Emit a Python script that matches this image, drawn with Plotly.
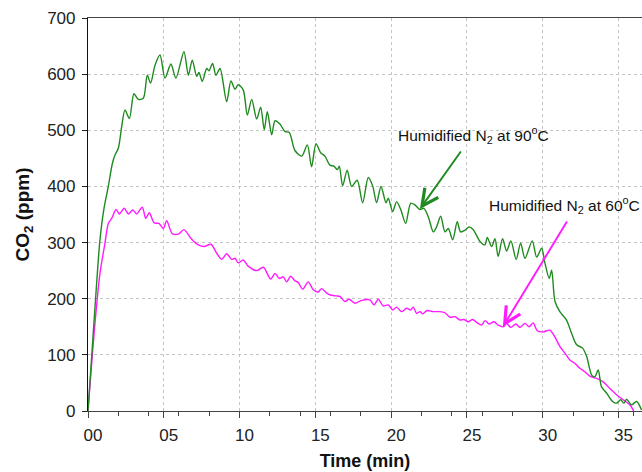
import plotly.graph_objects as go

# CO2 release (ppm) vs time (min) under humidified N2
t_90 = [0, 0.25, 0.5, 0.79, 1.05, 1.34, 1.6, 1.78, 2.0, 2.22, 2.44, 2.73, 3.03, 3.32, 3.65,
        3.91, 4.13, 4.42, 4.75, 5.08, 5.47, 5.80, 6.33, 6.62, 6.88, 7.17, 7.32, 7.54, 7.83,
        7.98, 8.22, 8.44, 8.71, 9.15, 9.43, 9.70, 9.91, 10.24, 10.51, 10.80, 11.13, 11.39,
        11.63, 11.83, 12.12, 12.34, 12.66, 12.99, 13.28, 13.65, 14.1, 14.47, 14.75, 15.04,
        15.35, 15.63, 15.96, 16.23, 16.45, 16.58, 16.80, 17.10, 17.39, 17.76, 18.12, 18.49,
        18.78, 19.04, 19.33, 19.66, 19.81, 20.1, 20.36, 20.63, 20.96, 21.29, 21.57, 21.9,
        22.16, 22.45, 22.78, 23.0, 23.27, 23.55, 23.77, 24.06, 24.36, 24.58, 24.87, 25.15,
        25.42, 25.86, 26.19, 26.34, 26.63, 26.85, 27.06, 27.35, 27.62, 27.9, 28.25, 28.54,
        28.83, 29.31, 29.6, 29.93, 30.15, 30.43, 30.59, 30.81, 31.13, 31.57, 31.91, 32.24,
        32.63, 32.9, 33.23, 33.44, 33.66, 33.88, 34.21, 34.61, 34.87, 35.14, 35.36, 35.53,
        35.86, 36.19, 36.52]
co2_90 = [0, 100, 200, 305, 360, 400, 440, 456, 468, 506, 536, 521, 565, 555, 557,
          598, 584, 616, 634, 593, 618, 593, 640, 598, 625, 596, 603, 587, 610,
          606, 619, 598, 610, 551, 588, 573, 581, 572, 527, 555, 520, 541,
          501, 533, 492, 517, 511, 498, 496, 464, 454, 474, 435, 476,
          460, 454, 438, 436, 430, 436, 401, 429, 400, 411, 371, 416,
          401, 371, 400, 371, 379, 355, 373, 359, 334, 370, 367, 359,
          361, 346, 319, 328, 347, 319, 325, 305, 337, 319, 322, 328,
          323, 302, 296, 309, 293, 307, 275, 307, 285, 303, 270, 299,
          272, 303, 274, 290, 263, 236, 251, 195, 177, 162, 138, 118,
          112, 97, 64, 61, 73, 43, 32, 17, 14, 20, 14, 21,
          11, 17, 2]

t_60 = [0, 0.46, 0.79, 1.12, 1.34, 1.56, 1.85, 2.07, 2.39, 2.66, 2.95, 3.21, 3.58, 3.81,
        4.04, 4.37, 4.68, 4.97, 5.19, 5.56, 5.96, 6.33, 6.84, 7.28, 7.67, 8.11, 8.49, 8.82,
        9.15, 9.48, 9.70, 9.91, 10.24, 10.57, 11.13, 11.57, 12.05, 12.34, 12.62, 12.88,
        13.11, 13.37, 13.65, 13.87, 14.16, 14.53, 14.86, 15.19, 15.41, 15.75, 15.96, 16.36,
        16.62, 16.95, 17.24, 17.61, 18.05, 18.6, 18.87, 19.15, 19.48, 19.81, 20.1, 20.36,
        20.69, 21.02, 21.29, 21.46, 21.68, 21.9, 22.08, 22.38, 22.78, 23.22, 23.55, 23.88,
        24.21, 24.54, 24.8, 25.09, 25.38, 25.68, 25.97, 26.19, 26.47, 26.78, 27.06, 27.4,
        27.62, 27.88, 28.23, 28.5, 28.83, 29.1, 29.37, 29.64, 30.03, 30.47, 30.8, 31.13,
        31.46, 31.79, 32.12, 32.45, 32.78, 33.11, 33.55, 33.99, 34.43, 34.87, 35.31, 35.75,
        36.0]
co2_60 = [0, 156, 245, 299, 334, 343, 359, 351, 361, 351, 358, 351, 363, 343,
          353, 335, 334, 325, 339, 316, 315, 323, 306, 296, 293, 297, 281, 270,
          280, 270, 272, 264, 269, 258, 250, 256, 235, 245, 236, 239,
          230, 240, 232, 229, 217, 230, 216, 212, 218, 210, 207, 205,
          204, 195, 199, 192, 197, 198, 189, 199, 187, 189, 180, 185,
          177, 183, 180, 185, 174, 177, 173, 179, 177, 177, 175, 167,
          168, 162, 163, 159, 163, 157, 153, 161, 155, 159, 153, 150,
          156, 149, 155, 149, 156, 150, 157, 143, 141, 144, 132, 115,
          103, 91, 85, 76, 70, 62, 58, 52, 40, 29, 20, 11,
          0]

x_ticks = [0, 5, 10, 15, 20, 25, 30, 35]
x_tick_text = ["00", "05", "10", "15", "20", "25", "30", "35"]
y_ticks = [0, 100, 200, 300, 400, 500, 600, 700]

label_90 = "Humidified N<sub>2</sub> at 90<sup>o</sup>C"
label_60 = "Humidified N<sub>2</sub> at 60<sup>o</sup>C"

GREEN = "#1f8a1f"
MAGENTA = "#ff1aff"
FONT = "Arial, Liberation Sans, sans-serif"

fig = go.Figure()
fig.add_trace(go.Scatter(x=t_60, y=co2_60, mode="lines",
                         line=dict(color=MAGENTA, width=1.4, shape="spline", smoothing=0.8),
                         showlegend=False))
fig.add_trace(go.Scatter(x=t_90, y=co2_90, mode="lines",
                         line=dict(color=GREEN, width=1.4, shape="spline", smoothing=0.8),
                         showlegend=False))

# arrows pointing at each curve
fig.add_annotation(x=21.9, y=360, ax=24.67, ay=465, xref="x", yref="y",
                   axref="x", ayref="y", text="", showarrow=True,
                   arrowhead=5, arrowsize=1.7, arrowwidth=1.9, arrowcolor=GREEN)
fig.add_annotation(x=27.37, y=150, ax=31.66, ay=340, xref="x", yref="y",
                   axref="x", ayref="y", text="", showarrow=True,
                   arrowhead=5, arrowsize=1.7, arrowwidth=1.9, arrowcolor=MAGENTA)

# curve labels
fig.add_annotation(x=20.3, y=491, xref="x", yref="y", text=label_90, showarrow=False,
                   xanchor="left", yanchor="middle",
                   font=dict(family=FONT, size=15.5, color="#111111"))
fig.add_annotation(x=26.35, y=367, xref="x", yref="y", text=label_60, showarrow=False,
                   xanchor="left", yanchor="middle",
                   font=dict(family=FONT, size=15.5, color="#111111"))

fig.update_xaxes(range=[0, 36.55], tickmode="array", tickvals=x_ticks, ticktext=x_tick_text,
                 ticks="outside", ticklen=6, tickwidth=1, tickcolor="#444444",
                 minor=dict(dtick=2, tick0=0, ticks="outside", ticklen=4,
                            tickcolor="#444444", showgrid=False),
                 showline=True, linecolor="#444444", linewidth=1.2, mirror=True,
                 showgrid=True, gridcolor="#c4c4c4", griddash="dot", gridwidth=1,
                 zeroline=False, ticklabelshift=5, ticklabelstandoff=2,
                 tickfont=dict(family=FONT, size=17, color="#222222"),
                 title=dict(text="<b>Time (min)</b>", standoff=10,
                            font=dict(family=FONT, size=18, color="#111111")))
fig.update_yaxes(range=[0, 700], tickmode="array", tickvals=y_ticks,
                 ticks="outside", ticklen=5, tickwidth=1, tickcolor="#222222",
                 showline=True, linecolor="#111111", linewidth=1.2,
                 showgrid=True, gridcolor="#c4c4c4", griddash="dot", gridwidth=1,
                 zeroline=False, ticklabelstandoff=3,
                 tickfont=dict(family=FONT, size=17, color="#222222"),
                 title=dict(text="<b>CO<sub>2</sub> (ppm)</b>", standoff=12,
                            font=dict(family=FONT, size=19, color="#111111")))

fig.update_layout(width=642, height=472, margin=dict(l=88, r=0, t=18, b=61),
                  plot_bgcolor="white", paper_bgcolor="white",
                  font=dict(family=FONT))

fig.write_html("out.html")
